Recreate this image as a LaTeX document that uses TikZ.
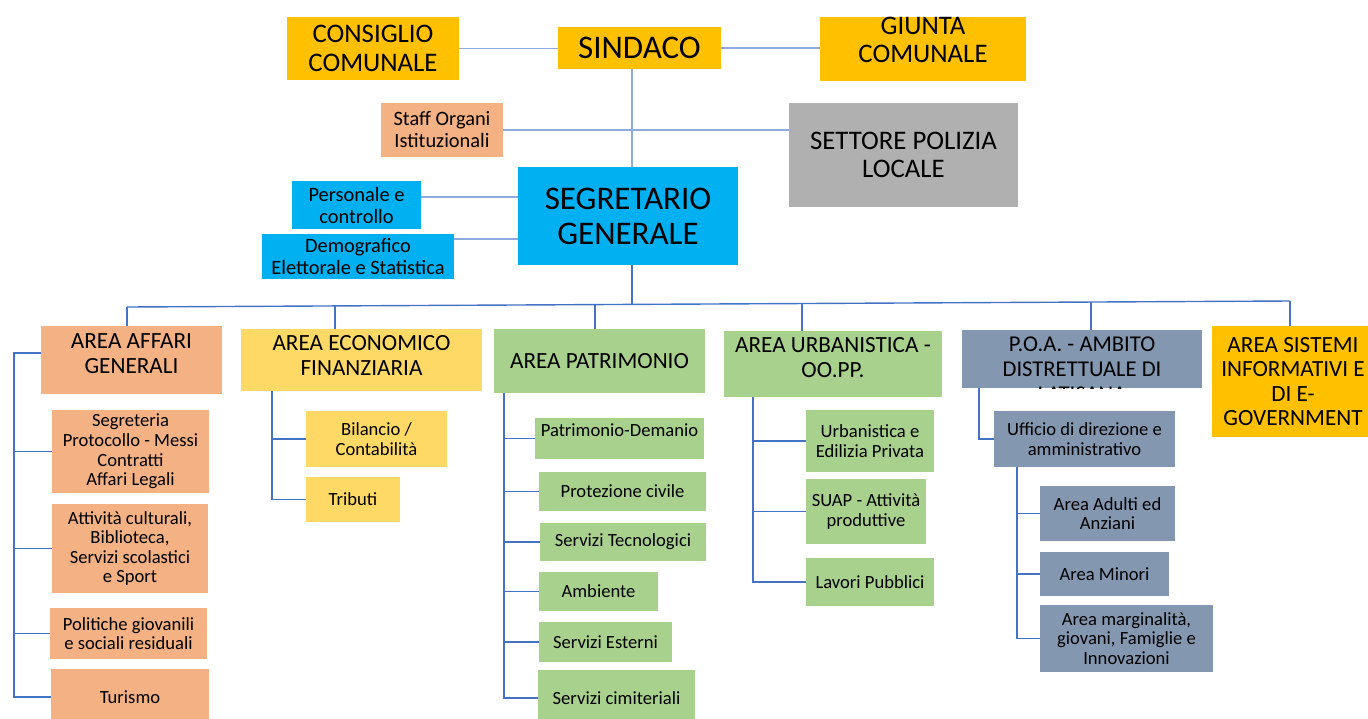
\documentclass[tikz,border=0pt]{standalone}
\usepackage{fontspec}
\setmainfont{Carlito}
\usetikzlibrary{calc}
\definecolor{gold}{HTML}{FFC000}
\definecolor{salmon}{HTML}{F4B183}
\definecolor{lyel}{HTML}{FFD966}
\definecolor{lgreen}{HTML}{A9D18E}
\definecolor{bgray}{HTML}{8497B0}
\definecolor{cyanb}{HTML}{00B0F0}
\definecolor{grayb}{HTML}{B0B0B0}
\definecolor{lineA}{HTML}{8FAADC}
\definecolor{lineB}{HTML}{4472C4}
\tikzset{
 box/.style={rectangle, inner sep=0pt, align=center, text=black},
 tx/.style={inner sep=0pt, align=center, text=black},
 fbig/.style={font=\fontsize{16.5}{17.5}\selectfont},
 ftop/.style={font=\fontsize{13.4}{14.2}\selectfont},
 farea/.style={font=\fontsize{11.6}{12.2}\selectfont},
 fpoa/.style={font=\fontsize{11.3}{12.6}\selectfont},
 fmid/.style={font=\fontsize{10.2}{11}\selectfont},
 fsub/.style={font=\fontsize{9.3}{9.8}\selectfont},
 conA/.style={draw=lineA, line width=0.7pt},
 conB/.style={draw=lineB, line width=0.7pt},
}
\newcommand{\bx}[7]{%
 \pgfmathsetmacro{\bxw}{(#4-#2)*0.5}%
 \pgfmathsetmacro{\bxh}{(#5-#3)*0.5}%
 \pgfmathsetmacro{\bxx}{(#2+#4)/2}%
 \pgfmathsetmacro{\bxy}{(#3+#5)/2}%
 \node[box,#6,minimum width=\bxw pt,minimum height=\bxh pt] (#1) at (\bxx,\bxy) {#7};}
\newcommand{\bxs}[8]{%
 \pgfmathsetmacro{\bxw}{(#4-#2)*0.5}%
 \pgfmathsetmacro{\bxh}{(#5-#3)*0.5}%
 \pgfmathsetmacro{\bxx}{(#2+#4)/2}%
 \pgfmathsetmacro{\bxy}{(#3+#5)/2-#7}%
 \pgfmathsetmacro{\bxc}{(#3+#5)/2}%
 \node[box,#6,minimum width=\bxw pt,minimum height=\bxh pt] (#1) at (\bxx,\bxc) {};
 \node[tx,#6,fill=none] (#1-t) at (\bxx,\bxy) {#8};}
\begin{document}
\begin{tikzpicture}[x=0.5pt,y=-0.5pt]
\useasboundingbox (0,0) rectangle (1368,718);
% top level
\bx{cons}{287}{17}{459}{80}{fill=gold,ftop}{CONSIGLIO\\COMUNALE}
\bx{sind}{558}{27}{721}{69}{fill=gold,fbig}{SINDACO}
\bxs{giu}{820}{17}{1026}{81}{fill=gold,ftop}{9}{GIUNTA\\COMUNALE}
\bx{staff}{381}{103}{503}{157}{fill=salmon,fmid}{Staff Organi\\Istituzionali}
\bx{pol}{789}{103}{1018}{207}{fill=grayb,ftop}{SETTORE POLIZIA\\LOCALE}
\bx{seg}{518}{167}{738}{265}{fill=cyanb,fbig}{SEGRETARIO\\GENERALE}
\bx{pers}{292}{181}{421}{229}{fill=cyanb,fmid}{Personale e\\controllo}
\bx{demo}{262}{234}{454}{279}{fill=cyanb,fmid}{Demografico\\Elettorale e Statistica}
% areas
\bxs{aag}{41}{326}{222}{394}{fill=salmon,farea}{6.5}{AREA AFFARI\\GENERALI}
\bxs{aef}{241}{329}{482}{391}{fill=lyel,farea}{4.5}{AREA ECONOMICO\\FINANZIARIA}
\bx{ap}{494}{329}{705}{393}{fill=lgreen,farea}{AREA PATRIMONIO}
\bxs{au}{724}{331}{942}{397}{fill=lgreen,farea}{6.5}{AREA URBANISTICA -\\OO.PP.}
\bx{poa}{962}{330}{1202}{388}{fill=bgray}{}
\begin{scope}
\clip (poa.south west) rectangle (poa.north east);
\node[tx,fpoa] (poa-t) at (1082,369) {P.O.A. - AMBITO\\DISTRETTUALE DI\\LATISANA};
\end{scope}
\bx{sis}{1212}{326}{1374}{437}{fill=gold,farea}{AREA SISTEMI\\INFORMATIVI E\\DI E-\\GOVERNMENT}
% affari generali
\bx{ag1}{52}{410}{209}{493}{fill=salmon,fsub}{Segreteria\\Protocollo - Messi\\Contratti\\Affari Legali}
\bx{ag2}{52}{504}{208}{593}{fill=salmon,fsub}{Attività culturali,\\Biblioteca,\\Servizi scolastici\\e Sport}
\bx{ag3}{50}{608}{207}{659}{fill=salmon,fsub}{Politiche giovanili\\e sociali residuali}
\bx{ag4}{51}{669}{209}{725}{fill=salmon,fsub}{Turismo}
% economico
\bx{ae1}{306}{411}{447}{467}{fill=lyel,fsub}{Bilancio /\\Contabilità}
\bx{ae2}{306}{477}{400}{522}{fill=lyel,fsub}{Tributi}
% patrimonio
\bx{ap1}{535}{418}{704}{459}{fill=lgreen,fsub}{\raisebox{8.5pt}{Patrimonio-Demanio}}
\bx{ap2}{539}{472}{706}{511}{fill=lgreen,fsub}{Protezione civile}
\bx{ap3}{540}{523}{706}{561}{fill=lgreen,fsub}{Servizi Tecnologici}
\bx{ap4}{539}{572}{658}{611}{fill=lgreen,fsub}{Ambiente}
\bx{ap5}{539}{622}{672}{662}{fill=lgreen,fsub}{Servizi Esterni}
\bx{ap6}{538}{670}{695}{726}{fill=lgreen,fsub}{Servizi cimiteriali}
% urbanistica
\bx{au1}{806}{410}{934}{472}{fill=lgreen,fsub}{Urbanistica e\\Edilizia Privata}
\bx{au2}{806}{479}{926}{544}{fill=lgreen,fsub}{SUAP - Attività\\produttive}
\bx{au3}{806}{558}{934}{606}{fill=lgreen,fsub}{Lavori Pubblici}
% poa
\bx{uff}{994}{411}{1175}{467}{fill=bgray,fsub}{Ufficio di direzione e\\amministrativo}
\bx{po1}{1040}{486}{1175}{541}{fill=bgray,fsub}{Area Adulti ed\\Anziani}
\bx{po2}{1040}{552}{1169}{596}{fill=bgray,fsub}{Area Minori}
\bx{po3}{1040}{605}{1213}{672}{fill=bgray,fsub}{Area marginalità,\\giovani, Famiglie e\\Innovazioni}
% bus (slightly sloped as in the reference)
\coordinate (bl) at (127,307);
\coordinate (br) at (1290,301);
\coordinate (trunk) at ($(bl)!0.4342!(br)$);
\coordinate (d2) at ($(bl)!0.1788!(br)$);
\coordinate (d3) at ($(bl)!0.4024!(br)$);
\coordinate (d4) at ($(bl)!0.5804!(br)$);
\coordinate (d5) at ($(bl)!0.8289!(br)$);
% top connectors
\draw[conA] (cons.east) -- (cons.east -| sind.west);
\draw[conA] (sind.east) -- (sind.east -| giu.west);
\draw[conA] (sind.south -| trunk) -- (seg.north -| trunk);
\draw[conA] (staff.east) -- (staff.east -| pol.west);
\draw[conA] ([yshift=4pt]pers.east) -- ([yshift=4pt]pers.east -| seg.west);
\draw[conA] ([yshift=8.75pt]demo.east) -- ([yshift=8.75pt]demo.east -| seg.west);
\draw[conB] (seg.south -| trunk) -- (trunk);
% bus and drops
\draw[conB] (bl) -- (br);
\draw[conB] (bl) -- (bl |- aag.north);
\draw[conB] (d2) -- (d2 |- aef.north);
\draw[conB] (d3) -- (d3 |- ap.north);
\draw[conB] (d4) -- (d4 |- au.north);
\draw[conB] (d5) -- (d5 |- poa.north);
\draw[conB] (br) -- (br |- sis.north);
% spines
\coordinate (s1) at (14,353);
\draw[conB] (aag.west |- s1) -- (s1) -- (s1 |- ag4.west) -- (ag4.west);
\foreach \c in {ag1,ag2,ag3} \draw[conB] (s1 |- \c.west) -- (\c.west);
\coordinate (s2) at (272,391);
\draw[conB] (s2 |- aef.south) -- (s2 |- ae2.west) -- (ae2.west);
\draw[conB] (s2 |- ae1.west) -- (ae1.west);
\coordinate (s3) at (504,400);
\draw[conB] (s3 |- ap.south) -- (s3 |- ap6.west) -- (ap6.west);
\foreach \c in {ap1,ap2,ap3,ap4,ap5} \draw[conB] (s3 |- \c.west) -- (\c.west);
\coordinate (s4) at (753,400);
\draw[conB] (s4 |- au.south) -- (s4 |- au3.west) -- (au3.west);
\foreach \c in {au1,au2} \draw[conB] (s4 |- \c.west) -- (\c.west);
\coordinate (s5) at (979,400);
\draw[conB] (s5 |- poa.south) |- (uff.west);
\coordinate (s6) at (1017,400);
\draw[conB] (s6 |- uff.south) -- (s6 |- po3.west) -- (po3.west);
\foreach \c in {po1,po2} \draw[conB] (s6 |- \c.west) -- (\c.west);
\end{tikzpicture}
\end{document}
